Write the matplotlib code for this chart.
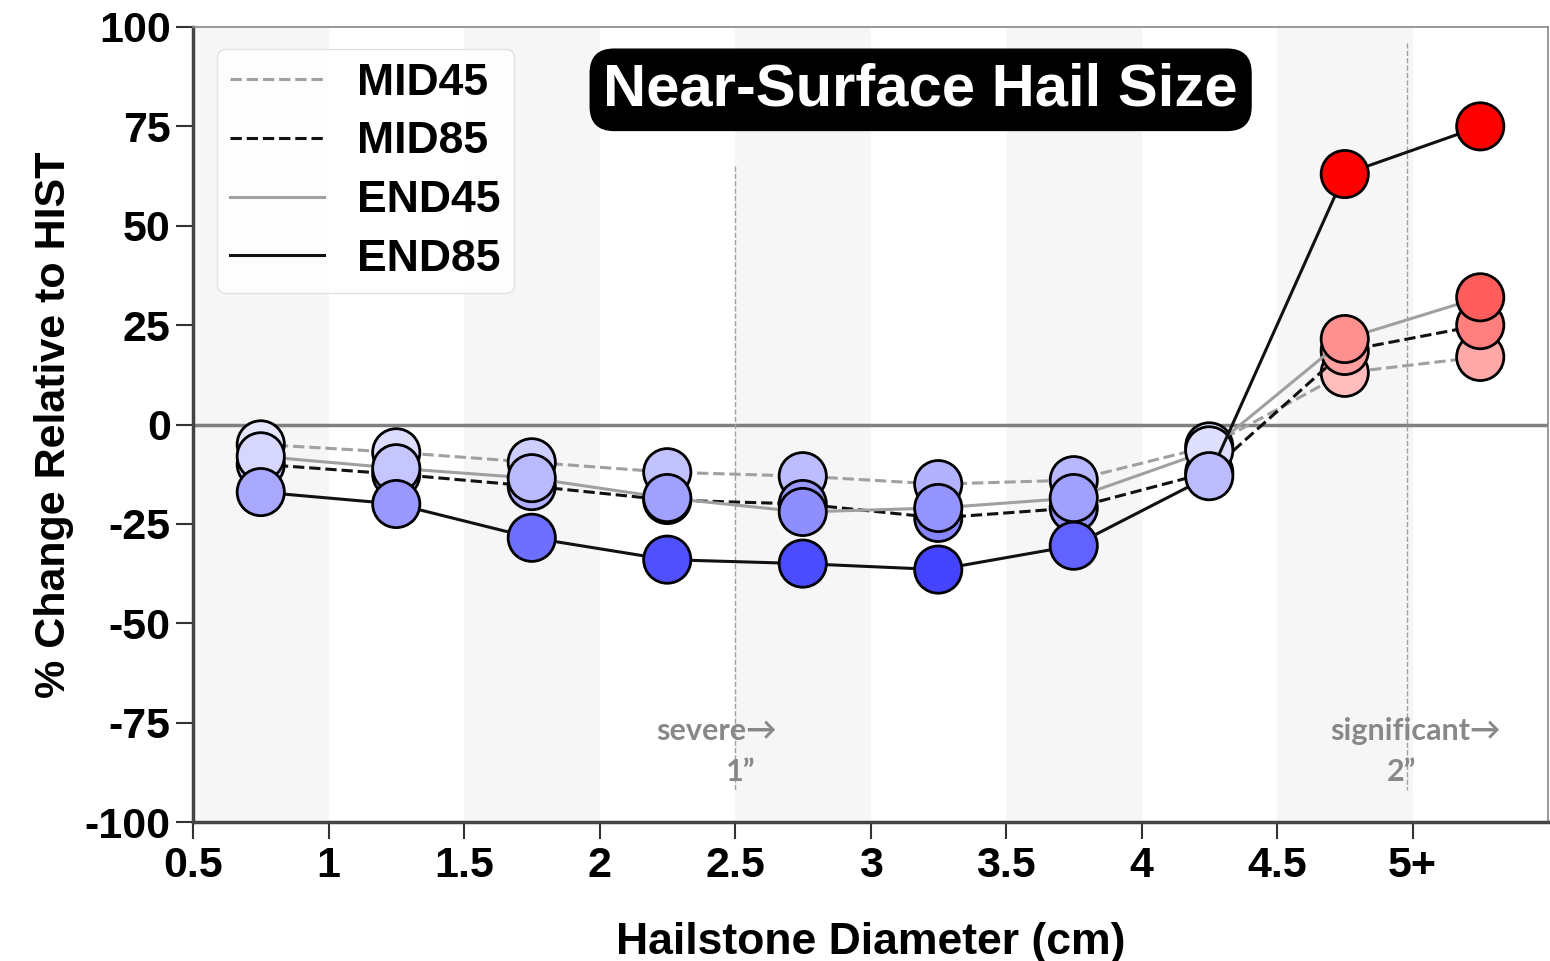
import numpy as np
import matplotlib.pyplot as plt
from matplotlib.colors import Normalize

# hail size bins (centres) and tick labels
x = [0.75, 1.25, 1.75, 2.25, 2.75, 3.25, 3.75, 4.25, 4.75, 5.25]
xticks = [0.5, 1, 1.5, 2, 2.5, 3, 3.5, 4, 4.5, 5]
xticklabels = ["0.5", "1", "1.5", "2", "2.5", "3", "3.5", "4", "4.5", "5+"]
yticks = [100, 75, 50, 25, 0, -25, -50, -75, -100]

# % change relative to HIST
mid45 = [-5, -7, -9.5, -12, -13, -15, -14, -5.5, 13, 17]
mid85 = [-10, -12.5, -15.5, -19, -20, -23.5, -21, -12, 18.5, 25]
end45 = [-8, -11, -13.5, -18.5, -22, -21, -18.5, -6.5, 21.5, 32]
end85 = [-17, -20, -28.5, -34, -35, -36.5, -30.5, -13, 63, 75]

series = [
    ("MID45", mid45, "#a0a0a0", "--"),
    ("MID85", mid85, "#111111", "--"),
    ("END45", end45, "#a0a0a0", "-"),
    ("END85", end85, "#111111", "-"),
]

plt.rcParams["font.family"] = ["Liberation Sans", "DejaVu Sans"]
plt.rcParams["font.weight"] = "bold"
plt.rcParams["axes.unicode_minus"] = False

fig = plt.figure(figsize=(15.5, 9.61), dpi=100)
ax = fig.add_axes([193 / 1550, 1 - 822 / 961, 1355 / 1550, 795 / 961])

# alternating background bands
for left in [0.5, 1.5, 2.5, 3.5, 4.5]:
    ax.axvspan(left, left + 0.5, color="#f6f6f6", zorder=0, lw=0)

ax.axhline(0, color="#808080", lw=2.5, zorder=1)

# threshold markers
ax.plot([2.5, 2.5], [65, -92], color="#a0a0a0", ls="--", lw=1, zorder=1)
ax.plot([4.98, 4.98], [96, -92], color="#a0a0a0", ls="--", lw=1, zorder=1)

norm = Normalize(vmin=-50, vmax=50)

z = 3
for name, vals, col, ls in series:
    ax.plot(x, vals, color=col, ls=ls, lw=2.2, label=name, zorder=z)
    ax.scatter(x, vals, s=34 ** 2, c=vals, cmap="bwr", norm=norm,
               edgecolors="black", linewidths=2, zorder=z + 0.5)
    z += 1

ax.set_xlim(0.5, 5.5)
ax.set_ylim(-100, 100)
ax.set_xticks(xticks)
ax.set_xticklabels(xticklabels)
ax.set_yticks(yticks)
ax.tick_params(axis="both", labelsize=31, length=12, width=1.5, color="#333333")
ax.tick_params(axis="y", pad=4)
ax.tick_params(axis="x", pad=5)

for s in ["left", "bottom"]:
    ax.spines[s].set_color("#444444")
    ax.spines[s].set_linewidth(2.5)
for s in ["top", "right"]:
    ax.spines[s].set_color("#888888")
    ax.spines[s].set_linewidth(1.2)

ax.set_ylabel("% Change Relative to HIST", fontsize=31, fontweight="bold", labelpad=8)
ax.set_xlabel("Hailstone Diameter (cm)", fontsize=32, fontweight="bold", labelpad=26)

leg = ax.legend(loc="upper left", bbox_to_anchor=(0.0177, 0.972), fontsize=32,
                handlelength=2.1, handletextpad=0.75, labelspacing=0.4,
                borderpad=0.3, borderaxespad=0, frameon=True, fancybox=True)
leg.get_frame().set_edgecolor("#dddddd")
leg.get_frame().set_facecolor("white")
leg.get_frame().set_alpha(0.85)
for t in leg.get_texts():
    t.set_fontweight("bold")

ax.text(0.537, 0.921, "Near-Surface Hail Size", transform=ax.transAxes,
        ha="center", va="center", color="white", fontsize=43, fontweight="bold",
        bbox=dict(boxstyle="round,pad=0.22,rounding_size=0.4", fc="black", ec="black"),
        zorder=10)

anno = dict(color="#888888", fontsize=22, fontweight="bold", ha="center", va="center",
            family=["Lato", "DejaVu Sans"])
ax.text(2.43, -77, "severe→", **anno)
ax.text(2.52, -87.5, "1”", **anno)
ax.text(5.01, -77, "significant→", **anno)
ax.text(4.96, -87.5, "2”", **anno)

fig.savefig("out.png", dpi=100)
